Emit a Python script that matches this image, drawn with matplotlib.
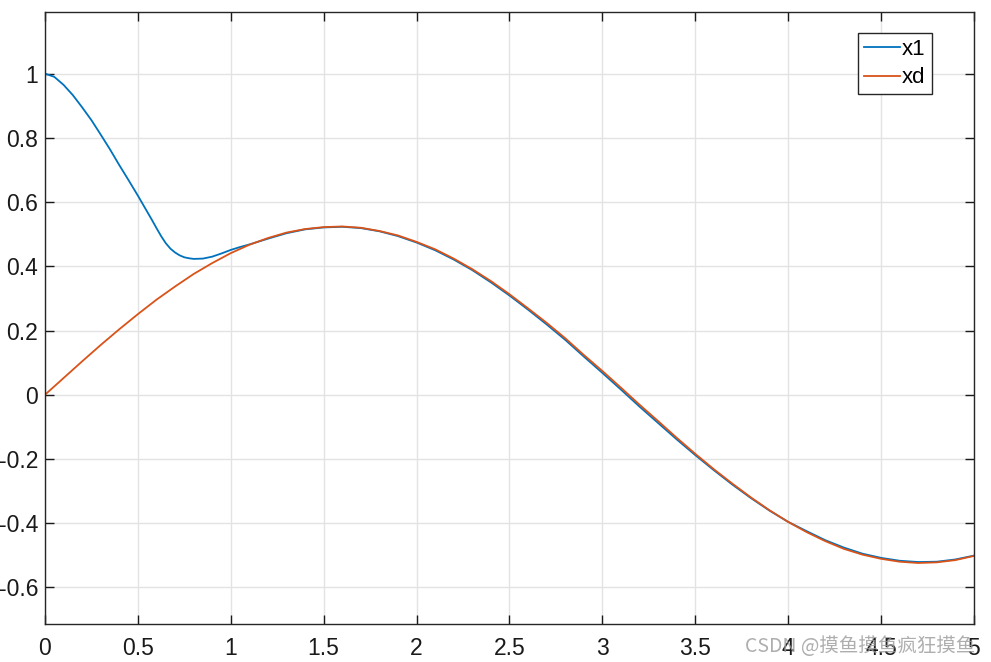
import matplotlib.pyplot as plt

# sample times and values
t_x1 = [0.0, 0.05, 0.1, 0.15, 0.2, 0.25, 0.3, 0.35, 0.4, 0.45, 0.5, 0.55, 0.575,
        0.6, 0.625, 0.65, 0.675, 0.7, 0.725, 0.75, 0.775, 0.8, 0.85, 0.9, 0.95,
        1.0, 1.05, 1.1,
        1.2, 1.3, 1.4, 1.5, 1.6, 1.7, 1.8, 1.9, 2.0, 2.1, 2.2, 2.3, 2.4, 2.5, 2.6,
        2.7, 2.8, 2.9, 3.0, 3.1, 3.2, 3.3, 3.4, 3.5, 3.6, 3.7, 3.8, 3.9, 4.0, 4.1,
        4.2, 4.3, 4.4, 4.5, 4.6, 4.7, 4.8, 4.9, 5.0]
x1 = [1.000, 0.990, 0.965, 0.933, 0.895, 0.855, 0.810, 0.764, 0.715, 0.668, 0.620,
      0.570, 0.545, 0.519, 0.494, 0.472, 0.455, 0.443, 0.434, 0.428, 0.425, 0.423,
      0.424, 0.430, 0.440, 0.451, 0.460, 0.468,
      0.486, 0.503, 0.515, 0.521, 0.523, 0.519, 0.509, 0.494, 0.474, 0.450, 0.421,
      0.388, 0.350, 0.309, 0.265, 0.219, 0.171, 0.119, 0.068, 0.016, -0.037, -0.088,
      -0.139, -0.188, -0.235, -0.280, -0.322, -0.361, -0.396, -0.425, -0.453, -0.476,
      -0.495, -0.508, -0.517, -0.521, -0.520, -0.513, -0.501]

t_xd = [0.0, 0.1, 0.2, 0.3, 0.4, 0.5, 0.6, 0.7, 0.8, 0.9, 1.0, 1.1, 1.2, 1.3, 1.4,
        1.5, 1.6, 1.7, 1.8, 1.9, 2.0, 2.1, 2.2, 2.3, 2.4, 2.5, 2.6, 2.7, 2.8, 2.9,
        3.0, 3.1, 3.2, 3.3, 3.4, 3.5, 3.6, 3.7, 3.8, 3.9, 4.0, 4.1, 4.2, 4.3, 4.4,
        4.5, 4.6, 4.7, 4.8, 4.9, 5.0]
xd = [0.000, 0.052, 0.104, 0.155, 0.204, 0.251, 0.296, 0.337, 0.376, 0.410, 0.441,
      0.467, 0.488, 0.505, 0.516, 0.522, 0.524, 0.520, 0.510, 0.496, 0.476, 0.453,
      0.424, 0.391, 0.354, 0.313, 0.269, 0.224, 0.176, 0.124, 0.074, 0.022, -0.031,
      -0.082, -0.134, -0.184, -0.232, -0.277, -0.320, -0.360, -0.396, -0.428, -0.456,
      -0.480, -0.498, -0.511, -0.520, -0.524, -0.522, -0.515, -0.502]

xticks = [0, 0.5, 1, 1.5, 2, 2.5, 3, 3.5, 4, 4.5, 5]
xtick_labels = ['0', '0.5', '1', '1.5', '2', '2.5', '3', '3.5', '4', '4.5', '5']
yticks = [-0.6, -0.4, -0.2, 0, 0.2, 0.4, 0.6, 0.8, 1]
ytick_labels = ['-0.6', '-0.4', '-0.2', '0', '0.2', '0.4', '0.6', '0.8', '1']

plt.rcParams['font.family'] = ['Liberation Sans', 'DejaVu Sans']

fig = plt.figure(figsize=(9.91, 6.62), dpi=100)
ax = fig.add_axes([0.0454, 0.0574, 0.9374, 0.9245])

ax.plot(t_x1, x1, color='#0072BD', lw=1.3, label='x1')
ax.plot(t_xd, xd, color='#D95319', lw=1.3, label='xd')

ax.set_xlim(0, 5)
ax.set_ylim(-0.714, 1.192)
ax.set_xticks(xticks)
ax.set_xticklabels(xtick_labels)
ax.set_yticks(yticks)
ax.set_yticklabels(ytick_labels)
ax.grid(True, color='#e3e3e3', lw=1)
ax.set_axisbelow(True)
ax.tick_params(direction='in', length=6.5, width=1, top=True, right=True,
               labelsize=16.5, colors='#1a1a1a')
ax.tick_params(axis='x', pad=9)
ax.tick_params(axis='y', pad=5)
for s in ax.spines.values():
    s.set_color('#262626')
    s.set_linewidth(1)

leg = ax.legend(loc='upper right', bbox_to_anchor=(0.9545, 0.9657), fontsize=16,
                fancybox=False, framealpha=1, edgecolor='#262626',
                handlelength=1.65, handletextpad=0.08, borderpad=0.27,
                labelspacing=0.33, borderaxespad=0)
leg.get_frame().set_linewidth(1)

fig.text(0.752, 0.024, 'CSDN @摸鱼摸鱼疯狂摸鱼', fontsize=14, color='#9a9a9a', alpha=0.8,
         family=['Noto Sans CJK SC', 'DejaVu Sans'], va='center')

fig.savefig('out.png', dpi=100)
